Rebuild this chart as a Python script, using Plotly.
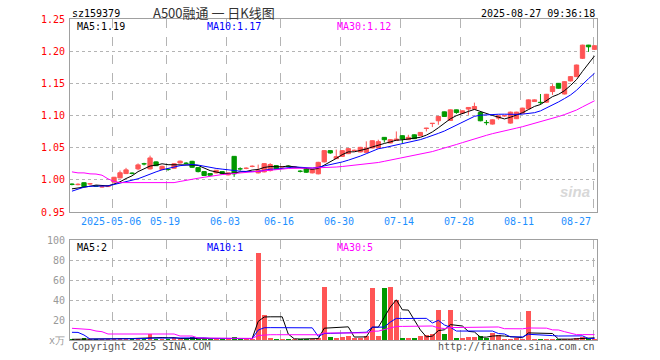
import plotly.graph_objects as go
import pandas as pd
import numpy as np

# ---------------- data ----------------
tick_idx = [7, 16, 26, 35, 45, 55, 65, 75, 87]
tick_labels = ["2025-05-06", "05-19", "06-03", "06-16", "06-30", "07-14", "07-28", "08-11", "08-27"]

open_ = [0.9935, 0.9925, 0.9955, 0.9935, 0.9905, 0.9888, 0.9895, 0.9965, 1.0030, 1.0097,
         1.0105, 1.0170, 1.0250, 1.0170, 1.0279, 1.0160, 1.0165, 1.0180, 1.0262, 1.0260,
         1.0288, 1.0190, 1.0128, 1.0098, 1.0108, 1.0128, 1.0077, 1.0365, 1.0172, 1.0178,
         1.0208, 1.0108, 1.0124, 1.0144, 1.0221, 1.0200, 1.0212, 1.0198, 1.0135, 1.0170,
         1.0108, 1.0093, 1.0279, 1.0454, 1.0330, 1.0365, 1.0407, 1.0455, 1.0433, 1.0427,
         1.0495, 1.0495, 1.0660, 1.0573, 1.0613, 1.0686, 1.0624, 1.0700, 1.0686, 1.0798,
         1.0875, 1.0918, 1.1057, 1.0923, 1.1088, 1.1037, 1.1100, 1.1100, 1.1046, 1.0892,
         1.0867, 1.0960, 1.0993, 1.0882, 1.0950, 1.1037, 1.1104, 1.1217, 1.1205, 1.1207,
         1.1372, 1.1500, 1.1334, 1.1537, 1.1604, 1.1889, 1.2094, 1.2028]
high = [0.9945, 0.9945, 0.9960, 0.9950, 0.9910, 0.9900, 0.9915, 1.0045, 1.0145, 1.0186,
        1.0115, 1.0255, 1.0265, 1.0376, 1.0285, 1.0220, 1.0175, 1.0260, 1.0300, 1.0275,
        1.0295, 1.0195, 1.0130, 1.0100, 1.0150, 1.0130, 1.0110, 1.0365, 1.0195, 1.0195,
        1.0225, 1.0237, 1.0260, 1.0260, 1.0225, 1.0215, 1.0225, 1.0215, 1.0150, 1.0175,
        1.0165, 1.0280, 1.0460, 1.0458, 1.0470, 1.0460, 1.0490, 1.0470, 1.0512, 1.0598,
        1.0612, 1.0624, 1.0662, 1.0630, 1.0752, 1.0690, 1.0700, 1.0705, 1.0742, 1.0808,
        1.0883, 1.0990, 1.1060, 1.1092, 1.1090, 1.1078, 1.1128, 1.1200, 1.1050, 1.0930,
        1.0938, 1.0998, 1.1008, 1.1060, 1.1058, 1.1120, 1.1248, 1.1248, 1.1334, 1.1335,
        1.1486, 1.1505, 1.1530, 1.1610, 1.1790, 1.2100, 1.2098, 1.2090]
low = [0.9915, 0.9915, 0.9890, 0.9925, 0.9890, 0.9880, 0.9890, 0.9955, 1.0025, 1.0090,
       1.0085, 1.0150, 1.0225, 1.0160, 1.0215, 1.0150, 1.0140, 1.0175, 1.0255, 1.0245,
       1.0185, 1.0115, 1.0060, 1.0065, 1.0100, 1.0095, 1.0070, 1.0046, 1.0140, 1.0165,
       1.0195, 1.0100, 1.0115, 1.0130, 1.0165, 1.0195, 1.0195, 1.0185, 1.0115, 1.0110,
       1.0100, 1.0085, 1.0270, 1.0405, 1.0325, 1.0355, 1.0400, 1.0445, 1.0428, 1.0420,
       1.0490, 1.0490, 1.0580, 1.0568, 1.0608, 1.0573, 1.0620, 1.0635, 1.0680, 1.0752,
       1.0820, 1.0856, 1.0980, 1.0918, 1.1026, 1.1030, 1.1010, 1.1095, 1.0910, 1.0850,
       1.0860, 1.0935, 1.0980, 1.0875, 1.0945, 1.1030, 1.1100, 1.1212, 1.1170, 1.1200,
       1.1320, 1.1420, 1.1328, 1.1530, 1.1600, 1.1880, 1.1990, 1.2020]
close = [0.9927, 0.9932, 0.9895, 0.9940, 0.9898, 0.9893, 0.9905, 1.0040, 1.0110, 1.0155,
         1.0100, 1.0232, 1.0246, 1.0340, 1.0220, 1.0210, 1.0160, 1.0250, 1.0290, 1.0255,
         1.0195, 1.0128, 1.0067, 1.0071, 1.0149, 1.0098, 1.0108, 1.0093, 1.0168, 1.0182,
         1.0212, 1.0149, 1.0252, 1.0237, 1.0170, 1.0205, 1.0210, 1.0202, 1.0132, 1.0118,
         1.0160, 1.0272, 1.0454, 1.0418, 1.0360, 1.0454, 1.0485, 1.0460, 1.0505, 1.0495,
         1.0608, 1.0593, 1.0624, 1.0624, 1.0634, 1.0635, 1.0660, 1.0640, 1.0737, 1.0805,
         1.0880, 1.0985, 1.0985, 1.1088, 1.1047, 1.1073, 1.1125, 1.1140, 1.0918, 1.0888,
         1.0933, 1.0995, 1.0997, 1.1052, 1.1052, 1.1115, 1.1243, 1.1243, 1.1200, 1.1330,
         1.1450, 1.1424, 1.1526, 1.1604, 1.1785, 1.2094, 1.2068, 1.2084]
volume = [1.0, 1.2, 1.7, 1.0, 0.8, 0.8, 1.0, 1.5, 2.3, 1.5,
          1.0, 2.3, 1.2, 6.0, 1.5, 1.5, 1.0, 2.0, 1.5, 1.2,
          3.3, 2.0, 1.5, 1.0, 1.5, 1.0, 1.2, 3.0, 1.0, 1.0,
          1.0, 87.0, 25.0, 2.0, 1.0, 1.0, 1.0, 1.0, 1.0, 1.2,
          1.5, 2.3, 53.0, 3.0, 2.3, 3.5, 4.0, 2.0, 2.0, 4.0,
          52.0, 4.0, 52.0, 53.0, 40.0, 2.0, 2.5, 2.0, 4.0, 5.0,
          6.0, 30.0, 6.0, 30.0, 2.0, 2.0, 3.0, 3.3, 4.0, 2.0,
          7.3, 5.0, 1.5, 1.5, 2.0, 1.5, 29.0, 1.5, 0.6, 0.8,
          0.6, 0.8, 0.6, 1.5, 2.5, 3.5, 2.0, 1.5]

# moving-average values before a full window exists
ma5_head = [0.986, 0.987, 0.989, 0.990]
ma10_head = [0.9824, 0.986, 0.9886, 0.990, 0.990, 0.990, 0.9905, 0.9927, 0.995]
ma30_head = [1.0124, 1.0108, 1.0108, 1.0093, 1.0090, 1.0072, 1.0015, 0.9975, 0.9957, 0.9957,
             0.9957, 0.9957, 0.9957, 0.9957, 0.9957, 0.9957, 0.9957, 0.9957, 0.9975, 0.9995,
             1.0005, 1.0025, 1.0040, 1.0056, 1.0070, 1.0082, 1.0090, 1.0098, 1.0105]
vma5_head = [0.7, 0.7, 0.7, 0.7]
vma10_head = [7.7, 7.6, 5.0, 1.0, 1.0, 1.0, 1.0, 1.0, 1.0]
vma30_head = [11.7, 11.5, 10.7, 10.5, 9.0, 8.3, 6.0, 6.0, 6.0, 6.0,
              6.0, 6.0, 6.0, 6.0, 6.0, 6.0, 6.0, 6.0, 4.0, 4.0,
              4.0, 2.0, 2.0, 2.0, 2.0, 2.0, 2.0, 2.0, 2.0]

price_ticks = [0.95, 1.00, 1.05, 1.10, 1.15, 1.20, 1.25]
vol_ticks = [0, 20, 40, 60, 80, 100]
vol_tick_text = ["x万", "20", "40", "60", "80", "100"]

# ---------------- styles ----------------
RED = "#FF5555"
GREEN = "#009900"
MA_COLORS = ["#000000", "#0000FF", "#FF00FF"]
BORDER = "#A0A0A0"
GRID = "#B4B4B4"
MONO = "DejaVu Sans Mono, Liberation Mono, monospace"

# page body margin is removed (post_script), so figure pixels == window pixels
FW, FH = 660, 360
PL, PR, PT, PB = 70, 597, 19, 340          # plot area on screen
L, T = PL, PT
R = FW - PR
B = FH - PB
PW, PH = PR - PL, PB - PT


def px_x(sx):
    return (sx - PL) / PW


def px_y(sy):
    return (PB - sy) / PH


def ma(values, n, head):
    s = pd.Series(values, dtype=float).rolling(n).mean().to_numpy()
    s[: n - 1] = head
    return s


idx = np.arange(len(close))
o = np.array(open_)
c = np.array(close)
up = c >= o
colors = [RED if u else GREEN for u in up]

fig = go.Figure()

# wicks
for flag, col in [(True, RED), (False, GREEN)]:
    xs, ys = [], []
    for i in idx[up == flag]:
        xs += [i, i, None]
        ys += [low[i], high[i], None]
    fig.add_trace(go.Scatter(x=xs, y=ys, mode="lines", line=dict(color=col, width=1),
                             xaxis="x", yaxis="y", hoverinfo="skip", showlegend=False))

# bodies
fig.add_trace(go.Bar(x=idx, y=np.abs(c - o), base=np.minimum(o, c),
                     marker=dict(color=colors, line=dict(color=colors, width=1)),
                     width=0.72, xaxis="x", yaxis="y", hoverinfo="skip", showlegend=False))

# price MAs
for n, head, col in [(5, ma5_head, MA_COLORS[0]), (10, ma10_head, MA_COLORS[1]), (30, ma30_head, MA_COLORS[2])]:
    fig.add_trace(go.Scatter(x=idx, y=ma(close, n, head), mode="lines",
                             line=dict(color=col, width=1), xaxis="x", yaxis="y",
                             hoverinfo="skip", showlegend=False))

# volume bars
fig.add_trace(go.Bar(x=idx, y=volume, marker=dict(color=colors, line=dict(width=0)),
                     width=0.8, xaxis="x2", yaxis="y2", hoverinfo="skip", showlegend=False))
for n, head, col in [(5, vma5_head, MA_COLORS[0]), (10, vma10_head, MA_COLORS[1]), (30, vma30_head, MA_COLORS[2])]:
    fig.add_trace(go.Scatter(x=idx, y=ma(volume, n, head), mode="lines",
                             line=dict(color=col, width=1), xaxis="x2", yaxis="y2",
                             hoverinfo="skip", showlegend=False))

xr = [-0.33, 87.41]
grid_x = [t - 0.25 for t in tick_idx]
common_x = dict(range=xr, showline=True, mirror=True, linecolor=BORDER, linewidth=1,
                tickvals=grid_x, showticklabels=False, ticks="", showgrid=True,
                gridcolor=GRID, griddash="dash", gridwidth=1, zeroline=False, fixedrange=True)

price_bottom = px_y(212)
vol_top = px_y(240)

fig.update_layout(
    width=FW, height=FH, margin=dict(l=L, r=R, t=T, b=B, autoexpand=False),
    paper_bgcolor="white", plot_bgcolor="white", barmode="overlay", bargap=0,
    showlegend=False,
    xaxis=dict(anchor="y", domain=[0, 1], **common_x),
    xaxis2=dict(anchor="y2", domain=[0, 1], **common_x),
    yaxis=dict(domain=[price_bottom, 1], range=[0.95, 1.25], tickvals=price_ticks,
               ticktext=["%.2f" % v for v in price_ticks],
               tickfont=dict(family=MONO, size=10, color="#FF0000"),
               ticks="outside", ticklen=2, tickcolor="rgba(0,0,0,0)",
               showline=True, mirror=True, linecolor=BORDER, linewidth=1,
               showgrid=True, gridcolor=GRID, griddash="dot", gridwidth=1,
               zeroline=False, fixedrange=True),
    yaxis2=dict(domain=[0, vol_top], range=[0, 100], tickvals=vol_ticks, ticktext=vol_tick_text,
                tickfont=dict(family=MONO, size=10, color="#999999"),
                ticks="outside", ticklen=2, tickcolor="rgba(0,0,0,0)",
                showline=True, mirror=True, linecolor=BORDER, linewidth=1,
                showgrid=True, gridcolor=GRID, griddash="dot", gridwidth=1,
                zeroline=False, fixedrange=True),
)

ann = []


def text(sx, sy, s, color="#000000", anchor="left", size=10, family=MONO):
    ann.append(dict(x=px_x(sx), y=px_y(sy), xref="paper", yref="paper", text=s,
                    showarrow=False, xanchor=anchor, yanchor="middle",
                    font=dict(family=family, size=size, color=color)))


# header
text(70, 13, "sz159379")
text(214, 12, "A500融通 一 日K线图", color="#333333", anchor="center", size=13,
     family="Noto Sans CJK SC, sans-serif")
text(597, 13, "2025-08-27 09:36:18", anchor="right")

# MA legends (last values)
text(75, 26, "MA5:%.2f" % ma(close, 5, ma5_head)[-1], MA_COLORS[0])
text(205, 26, "MA10:%.2f" % ma(close, 10, ma10_head)[-1], MA_COLORS[1])
text(335, 26, "MA30:%.2f" % ma(close, 30, ma30_head)[-1], MA_COLORS[2])
text(75, 247, "MA5:%d" % round(ma(volume, 5, vma5_head)[-1]), MA_COLORS[0])
text(205, 247, "MA10:%d" % round(ma(volume, 10, vma10_head)[-1]), MA_COLORS[1])
text(335, 247, "MA30:%d" % round(ma(volume, 30, vma30_head)[-1]), MA_COLORS[2])

# date labels, in data coordinates of the x axis
for k, (ti, lab) in enumerate(zip(tick_idx, tick_labels)):
    last = k == len(tick_idx) - 1
    ann.append(dict(x=ti - 0.5 if not last else ti - 0.25, y=px_y(221), xref="x", yref="paper",
                    text=lab, showarrow=False, xanchor="right" if last else "center",
                    yanchor="middle", font=dict(family=MONO, size=10, color="#1E90FF")))

# footer
text(70, 346, "Copyright 2025 SINA.COM", color="#555555")
text(597, 346, "http://finance.sina.com.cn", color="#555555", anchor="right")

# watermark
text(575, 192, "<b><i>sina</i></b>", color="#D8D8D8", anchor="center", size=15,
     family="Liberation Sans, Arial, sans-serif")

fig.update_layout(annotations=ann)
fig.write_html("out.html", config={"displayModeBar": False, "staticPlot": True},
               post_script="document.body.style.margin='0px';")
